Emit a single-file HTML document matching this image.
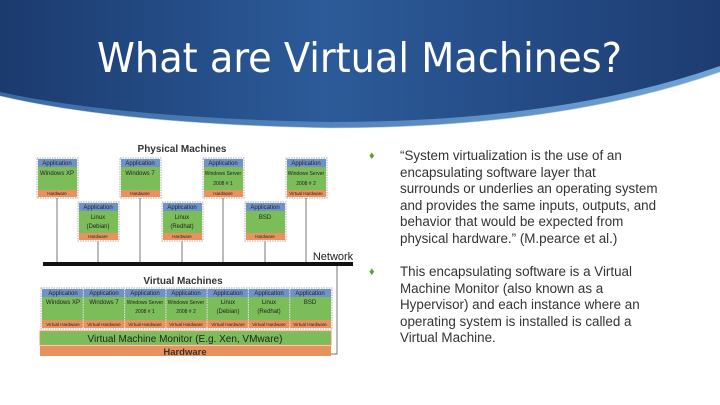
<!DOCTYPE html>
<html><head><meta charset="utf-8"><style>
html,body{margin:0;padding:0}
body{width:720px;height:405px;overflow:hidden;background:#fff;position:relative;font-family:"Liberation Sans",sans-serif}
svg{position:absolute;left:0;top:0}
.t{position:absolute;left:400px;white-space:nowrap;font-size:13.4px;line-height:16.6px;color:#333;font-family:"Liberation Sans",sans-serif}
.b{position:absolute;left:369px;font-size:11px;color:#5da02e}
</style></head><body>
<svg width="720" height="405" viewBox="0 0 720 405">
<defs>
<linearGradient id="g" x1="0" y1="0" x2="1" y2="0">
<stop offset="0" stop-color="#1b3a6e"/><stop offset="0.45" stop-color="#2c5b99"/><stop offset="1" stop-color="#1d3c72"/></linearGradient>
<linearGradient id="g2" x1="0" y1="0" x2="1" y2="0">
<stop offset="0" stop-color="#3a6aa5"/><stop offset="1" stop-color="#6fa3d6"/></linearGradient>
</defs>
<path d="M0,0 H720 V72 Q560,128 330,128 Q120,124 0,96 Z" fill="url(#g2)"/>
<path d="M0,0 H720 V66 Q560,122 330,122 Q120,118 0,92 Z" fill="url(#g)"/>
<path d="M0,96 Q120,124 330,128 Q560,128 720,72" fill="none" stroke="#c8ccd2" stroke-width="0.6"/>
<text x="97" y="72" textLength="525" lengthAdjust="spacingAndGlyphs" fill="#fff" font-size="41" font-family="DejaVu Sans Condensed,Liberation Sans,sans-serif">What are Virtual Machines?</text>

<g font-family="Liberation Sans,sans-serif" text-anchor="middle">
<text x="182" y="152" font-size="10" font-weight="bold" fill="#333">Physical Machines</text>
<g stroke="#777" stroke-width="1">
<line x1="57" y1="198" x2="57" y2="263"/><line x1="98" y1="240" x2="98" y2="263"/>
<line x1="140" y1="198" x2="140" y2="263"/><line x1="182" y1="240" x2="182" y2="263"/>
<line x1="223" y1="198" x2="223" y2="263"/><line x1="265" y1="240" x2="265" y2="263"/>
<line x1="306" y1="198" x2="306" y2="263"/>
<polyline points="337,266 337,354 330,354" fill="none"/>
</g>
<rect x="43" y="262" width="310" height="4" fill="#111"/>
<text x="333" y="260" font-size="11" fill="#222">Network</text>

<g font-size="6" fill="#222">
<g>
<rect x="37" y="158" width="41" height="40" fill="#fff" stroke="#aaa" stroke-dasharray="1.5,1"/>
<rect x="38" y="159" width="39" height="8" fill="#6f93c8"/><rect x="38" y="167" width="39" height="23" fill="#7bbd58"/><rect x="38" y="190" width="39" height="7" fill="#e8935f"/>
<text x="57" y="165">Application</text><text x="57" y="175">Windows XP</text><text x="57" y="195" font-size="4.5">Hardware</text>
</g>
<g>
<rect x="120" y="158" width="41" height="40" fill="#fff" stroke="#aaa" stroke-dasharray="1.5,1"/>
<rect x="121" y="159" width="39" height="8" fill="#6f93c8"/><rect x="121" y="167" width="39" height="23" fill="#7bbd58"/><rect x="121" y="190" width="39" height="7" fill="#e8935f"/>
<text x="140" y="165">Application</text><text x="140" y="175">Windows 7</text><text x="140" y="195" font-size="4.5">Hardware</text>
</g>
<g>
<rect x="203" y="158" width="41" height="40" fill="#fff" stroke="#aaa" stroke-dasharray="1.5,1"/>
<rect x="204" y="159" width="39" height="8" fill="#6f93c8"/><rect x="204" y="167" width="39" height="23" fill="#7bbd58"/><rect x="204" y="190" width="39" height="7" fill="#e8935f"/>
<text x="223" y="165">Application</text><text x="223" y="175" font-size="5">Windows Server</text><text x="223" y="185" font-size="5">2008 # 1</text><text x="223" y="195" font-size="4.5">Hardware</text>
</g>
<g>
<rect x="286" y="158" width="41" height="40" fill="#fff" stroke="#aaa" stroke-dasharray="1.5,1"/>
<rect x="287" y="159" width="39" height="8" fill="#6f93c8"/><rect x="287" y="167" width="39" height="23" fill="#7bbd58"/><rect x="287" y="190" width="39" height="7" fill="#e8935f"/>
<text x="306" y="165">Application</text><text x="306" y="175" font-size="5">Windows Server</text><text x="306" y="185" font-size="5">2008 # 2</text><text x="306" y="195" font-size="4.5">Virtual Hardware</text>
</g>
<g>
<rect x="78" y="202" width="41" height="39" fill="#fff" stroke="#aaa" stroke-dasharray="1.5,1"/>
<rect x="79" y="203" width="39" height="8" fill="#6f93c8"/><rect x="79" y="211" width="39" height="22" fill="#7bbd58"/><rect x="79" y="233" width="39" height="7" fill="#e8935f"/>
<text x="98" y="209">Application</text><text x="98" y="219">Linux</text><text x="98" y="228">(Debian)</text><text x="98" y="238" font-size="4.5">Hardware</text>
</g>
<g>
<rect x="162" y="202" width="41" height="39" fill="#fff" stroke="#aaa" stroke-dasharray="1.5,1"/>
<rect x="163" y="203" width="39" height="8" fill="#6f93c8"/><rect x="163" y="211" width="39" height="22" fill="#7bbd58"/><rect x="163" y="233" width="39" height="7" fill="#e8935f"/>
<text x="182" y="209">Application</text><text x="182" y="219">Linux</text><text x="182" y="228">(Redhat)</text><text x="182" y="238" font-size="4.5">Hardware</text>
</g>
<g>
<rect x="245" y="202" width="41" height="39" fill="#fff" stroke="#aaa" stroke-dasharray="1.5,1"/>
<rect x="246" y="203" width="39" height="8" fill="#6f93c8"/><rect x="246" y="211" width="39" height="22" fill="#7bbd58"/><rect x="246" y="233" width="39" height="7" fill="#e8935f"/>
<text x="265" y="209">Application</text><text x="265" y="219">BSD</text><text x="265" y="238" font-size="4.5">Hardware</text>
</g>
</g>

<text x="183" y="284" font-size="10" font-weight="bold" fill="#333">Virtual Machines</text>
<rect x="41" y="288" width="291" height="41" fill="#fff" stroke="#aaa" stroke-dasharray="1.5,1"/>
<g font-size="6" fill="#222">
<rect x="42" y="289" width="289" height="8" fill="#6f93c8"/>
<rect x="42" y="297" width="289" height="23" fill="#7bbd58"/>
<rect x="42" y="320" width="289" height="8" fill="#e8935f"/>
<g stroke="#ddd" stroke-width="1.2" stroke-dasharray="1.5,1">
<line x1="83.3" y1="289" x2="83.3" y2="328"/><line x1="124.6" y1="289" x2="124.6" y2="328"/><line x1="165.9" y1="289" x2="165.9" y2="328"/><line x1="207.1" y1="289" x2="207.1" y2="328"/><line x1="248.4" y1="289" x2="248.4" y2="328"/><line x1="289.7" y1="289" x2="289.7" y2="328"/>
</g>
<text x="63" y="295">Application</text><text x="104" y="295">Application</text><text x="145" y="295">Application</text><text x="186" y="295">Application</text><text x="228" y="295">Application</text><text x="269" y="295">Application</text><text x="310" y="295">Application</text>
<text x="63" y="304">Windows XP</text><text x="104" y="304">Windows 7</text>
<text x="145" y="304" font-size="5">Windows Server</text><text x="145" y="313" font-size="5">2008 # 1</text>
<text x="186" y="304" font-size="5">Windows Server</text><text x="186" y="313" font-size="5">2008 # 2</text>
<text x="228" y="304">Linux</text><text x="228" y="313">(Debian)</text>
<text x="269" y="304">Linux</text><text x="269" y="313">(Redhat)</text>
<text x="310" y="304">BSD</text>
<g font-size="4.5"><text x="63" y="326">Virtual Hardware</text><text x="104" y="326">Virtual Hardware</text><text x="145" y="326">Virtual Hardware</text><text x="186" y="326">Virtual Hardware</text><text x="228" y="326">Virtual Hardware</text><text x="269" y="326">Virtual Hardware</text><text x="310" y="326">Virtual Hardware</text></g>
</g>
<rect x="40" y="331" width="291" height="14" fill="#7bbd58" stroke="#e8935f" stroke-width="1"/>
<text x="185" y="342" font-size="10" fill="#222">Virtual Machine Monitor (E.g. Xen, VMware)</text>
<rect x="40" y="346" width="291" height="10" fill="#e8935f"/>
<text x="185" y="355" font-size="9.5" font-weight="bold" fill="#333">Hardware</text>
</g>
</svg>
<div class="b" style="top:150px">&#9830;</div>
<div class="t" style="top:148px">“System virtualization is the use of an<br>encapsulating software layer that<br>surrounds or underlies an operating system<br>and provides the same inputs, outputs, and<br>behavior that would be expected from<br>physical hardware.” (M.pearce et al.)</div>
<div class="b" style="top:266px">&#9830;</div>
<div class="t" style="top:264px">This encapsulating software is a Virtual<br>Machine Monitor (also known as a<br>Hypervisor) and each instance where an<br>operating system is installed is called a<br>Virtual Machine.</div>
</body></html>
